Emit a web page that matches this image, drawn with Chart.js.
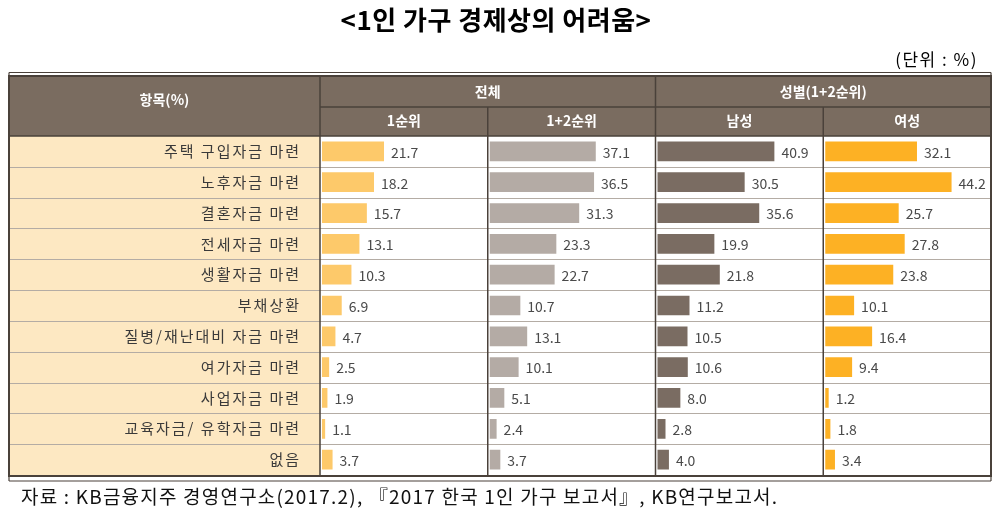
<!DOCTYPE html>
<html>
<head>
<meta charset="utf-8">
<script src="https://cdn.jsdelivr.net/npm/chart.js@4"></script>
<style>
  html, body { margin: 0; padding: 0; background: #fff; }
  canvas { display: block; }
</style>
</head>
<body>
<canvas id="chart_Hardship" width="1000" height="523"></canvas>
<script>
var titleText = "<1인 가구 경제상의 어려움>";
var unitText = "(단위 : %)";
var sourceText = "자료 : KB금융지주 경영연구소(2017.2), 『2017 한국 1인 가구 보고서』, KB연구보고서.";

var categories = ["주택 구입자금 마련", "노후자금 마련", "결혼자금 마련", "전세자금 마련", "생활자금 마련", "부채상환",
  "질병/재난대비 자금 마련", "여가자금 마련", "사업자금 마련", "교육자금/ 유학자금 마련", "없음"];
var rank1 = [21.7, 18.2, 15.7, 13.1, 10.3, 6.9, 4.7, 2.5, 1.9, 1.1, 3.7];
var rank12 = [37.1, 36.5, 31.3, 23.3, 22.7, 10.7, 13.1, 10.1, 5.1, 2.4, 3.7];
var male = [40.9, 30.5, 35.6, 19.9, 21.8, 11.2, 10.5, 10.6, 8.0, 2.8, 4.0];
var female = [32.1, 44.2, 25.7, 27.8, 23.8, 10.1, 16.4, 9.4, 1.2, 1.8, 3.4];

var headTop = "항목(%)";
var groupHeads = ["전체", "성별(1+2순위)"];
var colHeads = ["1순위", "1+2순위", "남성", "여성"];

var FONT = "'Noto Sans CJK KR', 'Noto Sans', sans-serif";
var HEAD_BG = "#7a6c60";
var LINE_DARK = "#4a413a";

function xScale(id) {
  return {
    type: 'linear',
    position: 'bottom',
    stack: 'cols',
    stackWeight: 1,
    min: -0.7,
    max: 58,
    grid: { display: false },
    border: { display: false },
    ticks: { display: false },
    afterFit: function (s) { s.height = 0; }
  };
}

// table frame, headers, value labels
var tablePlugin = {
  id: 'tablePlugin',
  beforeDraw: function (chart) {
    var ctx = chart.ctx;
    var a = chart.chartArea;
    ctx.save();
    ctx.fillStyle = "#fff";
    ctx.fillRect(0, 0, chart.width, chart.height);

    // title + unit
    ctx.fillStyle = "#000";
    ctx.textAlign = "center";
    ctx.textBaseline = "middle";
    ctx.font = "bold 26px " + FONT;
    ctx.letterSpacing = "0.5px";
    ctx.fillText(titleText, 496, 20);
    ctx.font = "17px " + FONT;
    ctx.letterSpacing = "1.5px";
    ctx.textAlign = "right";
    ctx.fillText(unitText, 978, 60);
    ctx.letterSpacing = "0px";

    // label column background
    ctx.fillStyle = "#fde8c2";
    ctx.fillRect(9, a.top, a.left - 9, a.bottom - a.top);

    // header
    ctx.fillStyle = HEAD_BG;
    ctx.fillRect(9, 76, a.right - 9, a.top - 76);

    // row separators
    var y = chart.scales.y;
    ctx.strokeStyle = "#b4aca4";
    ctx.lineWidth = 1.2;
    for (var i = 0; i < categories.length - 1; i++) {
      var yy = Math.round((y.getPixelForValue(i) + y.getPixelForValue(i + 1)) / 2) + 0.5;
      ctx.beginPath();
      ctx.moveTo(9, yy);
      ctx.lineTo(a.right, yy);
      ctx.stroke();
    }
    ctx.restore();
    // wider spacing for the category tick labels
    ctx.letterSpacing = "2px";
  },
  beforeDatasetsDraw: function (chart) {
    chart.ctx.letterSpacing = "0px";
  },
  afterDatasetsDraw: function (chart) {
    var ctx = chart.ctx;
    var a = chart.chartArea;
    ctx.save();

    // value labels
    ctx.font = "14px " + FONT;
    ctx.fillStyle = "#4a4a4a";
    ctx.textAlign = "left";
    ctx.textBaseline = "middle";
    chart.data.datasets.forEach(function (ds, di) {
      var meta = chart.getDatasetMeta(di);
      meta.data.forEach(function (bar, i) {
        ctx.fillText(ds.data[i].toFixed(1), bar.x + 7, bar.y + 1);
      });
    });

    // column borders
    var cols = ['x1', 'x2', 'x3', 'x4'].map(function (id) { return chart.scales[id]; });
    ctx.strokeStyle = LINE_DARK;
    ctx.lineWidth = 1.5;
    ctx.beginPath();
    ctx.moveTo(a.left, 76); ctx.lineTo(a.left, a.bottom);
    ctx.moveTo(cols[1].left, 107); ctx.lineTo(cols[1].left, a.bottom);
    ctx.moveTo(cols[2].left, 76); ctx.lineTo(cols[2].left, a.bottom);
    ctx.moveTo(cols[3].left, 107); ctx.lineTo(cols[3].left, a.bottom);
    ctx.moveTo(a.left, 107); ctx.lineTo(a.right, 107);
    ctx.moveTo(9, a.top); ctx.lineTo(a.right, a.top);
    ctx.stroke();

    // outer frame with double lines
    ctx.lineWidth = 2;
    ctx.strokeRect(9, 76, a.right - 9, a.bottom + 1 - 76);
    ctx.lineWidth = 1.2;
    ctx.beginPath();
    ctx.moveTo(9, 72.5); ctx.lineTo(a.right, 72.5);
    ctx.moveTo(9, 72.5); ctx.lineTo(9, 76);
    ctx.moveTo(a.right, 72.5); ctx.lineTo(a.right, 76);
    ctx.moveTo(9, 481); ctx.lineTo(a.right, 481);
    ctx.moveTo(9, a.bottom); ctx.lineTo(9, 481);
    ctx.moveTo(a.right, a.bottom); ctx.lineTo(a.right, 481);
    ctx.stroke();

    // header texts
    ctx.fillStyle = "#fff";
    ctx.textAlign = "center";
    ctx.font = "bold 14px " + FONT;
    ctx.fillText(headTop, (9 + a.left) / 2, 100);
    ctx.fillText(groupHeads[0], (cols[0].left + cols[1].right) / 2, 92);
    ctx.fillText(groupHeads[1], (cols[2].left + cols[3].right) / 2, 92);
    cols.forEach(function (s, i) {
      ctx.fillText(colHeads[i], (s.left + s.right) / 2, 121);
    });

    // source
    ctx.fillStyle = "#111";
    ctx.textAlign = "left";
    ctx.font = "19px " + FONT;
    ctx.letterSpacing = "1.2px";
    ctx.fillText(sourceText, 21, 497);
    ctx.restore();
  }
};

new Chart(document.getElementById("chart_Hardship"), {
  type: 'bar',
  data: {
    labels: categories,
    datasets: [
      { label: colHeads[0], data: rank1, xAxisID: 'x1', yAxisID: 'y', backgroundColor: "#fdc96a" },
      { label: colHeads[1], data: rank12, xAxisID: 'x2', yAxisID: 'y', backgroundColor: "#b4aba5" },
      { label: colHeads[2], data: male, xAxisID: 'x3', yAxisID: 'y', backgroundColor: "#7a6c62" },
      { label: colHeads[3], data: female, xAxisID: 'x4', yAxisID: 'y', backgroundColor: "#fdb124" }
    ]
  },
  options: {
    indexAxis: 'y',
    responsive: false,
    animation: false,
    layout: { padding: { left: 9, right: 9, top: 136, bottom: 48 } },
    datasets: { bar: { grouped: false, barPercentage: 0.64, categoryPercentage: 1 } },
    plugins: {
      legend: { display: false },
      tooltip: { enabled: false }
    },
    scales: {
      y: {
        type: 'category',
        position: 'left',
        grid: { display: false },
        border: { display: false },
        ticks: { color: "#3a3a3a", padding: 11, font: { size: 15, family: FONT } },
        afterFit: function (s) { s.width = 311; }
      },
      x1: xScale('x1'),
      x2: xScale('x2'),
      x3: xScale('x3'),
      x4: xScale('x4')
    }
  },
  plugins: [tablePlugin]
});
</script>
</body>
</html>
